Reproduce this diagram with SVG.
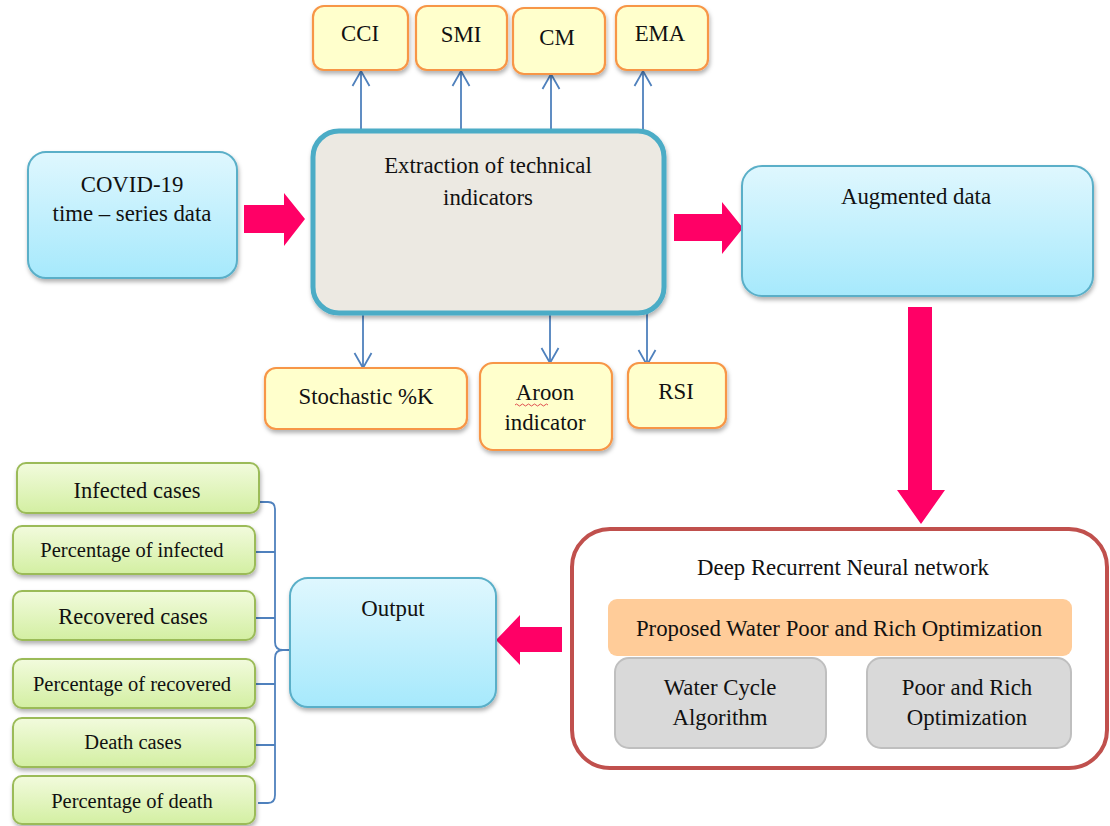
<svg xmlns="http://www.w3.org/2000/svg" width="1110" height="826" viewBox="0 0 1110 826" font-family="'Liberation Serif', 'DejaVu Serif', 'Times New Roman', serif">
<style>
text{font-family:'Liberation Serif','DejaVu Serif','Times New Roman',serif;fill:#111;text-anchor:middle}
.t21{font-size:22.8px}.t20{font-size:22.5px}.t18{font-size:20.5px}
.blue{fill:url(#gBlue);stroke:#5AAFC8;stroke-width:2;filter:url(#sh)}
.yel{fill:#FFFFCC;stroke:#F79646;stroke-width:2.2;filter:url(#sh)}
.grn{fill:url(#gGreen);stroke:#9BBB59;stroke-width:2;filter:url(#sh)}
.gry{fill:#D9D9D9;stroke:#BFBFBF;stroke-width:2}
.con{stroke:#4F81BD;stroke-width:1.8;fill:none}
.pink{fill:#FF0066}
</style>
<defs>
<linearGradient id="gBlue" x1="0" y1="0" x2="0" y2="1"><stop offset="0" stop-color="#DFF7FE"/><stop offset="1" stop-color="#A6E9FC"/></linearGradient>
<linearGradient id="gGreen" x1="0" y1="0" x2="0" y2="1"><stop offset="0" stop-color="#F2FBDD"/><stop offset="1" stop-color="#D3EFA2"/></linearGradient>
<filter id="sh" x="-10%" y="-10%" width="130%" height="140%"><feDropShadow dx="1" dy="3" stdDeviation="2" flood-color="#000" flood-opacity="0.3"/></filter>
<marker id="open" markerWidth="20" markerHeight="20" refX="16" refY="10" orient="auto" markerUnits="userSpaceOnUse"><path d="M1,1.5 L16,10 L1,18.5" fill="none" stroke="#4F81BD" stroke-width="1.8"/></marker>
</defs>

<g id="connectors">
<line class="con" x1="361" y1="131" x2="361" y2="71" marker-end="url(#open)"/>
<line class="con" x1="461" y1="131" x2="461" y2="71" marker-end="url(#open)"/>
<line class="con" x1="551" y1="131" x2="551" y2="74" marker-end="url(#open)"/>
<line class="con" x1="643" y1="131" x2="643" y2="71" marker-end="url(#open)"/>
<line class="con" x1="363" y1="313" x2="363" y2="368" marker-end="url(#open)"/>
<line class="con" x1="550" y1="313" x2="550" y2="363" marker-end="url(#open)"/>
<line class="con" x1="647" y1="313" x2="647" y2="365" marker-end="url(#open)"/>
<path class="con" d="M260,502 L268,502 Q275,502 275,509 L275,642 Q275,650 283,650 L290,650 M283,650 Q275,650 275,658 L275,795 Q275,803 268,803 L258,803"/>
<path class="con" d="M256,552 L275,552 M256,618 L275,618 M256,684 L275,684 M256,745 L275,745"/>
<polygon class="pink" points="244,205 284,205 284,193 305,219 284,246 284,233 244,233"/>
<polygon class="pink" points="674,214 722,214 722,202 743,228 722,254 722,241 674,241"/>
<polygon class="pink" points="908,307 932,307 932,490 945,490 921,524 897,490 908,490"/>
<polygon class="pink" points="562,627 520,627 520,615 496,640 520,665 520,652 562,652"/>
</g>

<g id="covid"><rect class="blue" x="28" y="152" width="209" height="126" rx="18"/>
<text class="t21" x="132" y="192">COVID-19</text><text class="t21" x="132" y="221">time – series data</text></g>

<g id="extraction"><rect x="313" y="131" width="351" height="182" rx="26" fill="#ECE9E2" stroke="#4BACC6" stroke-width="5" filter="url(#sh)"/>
<text class="t21" x="488" y="173">Extraction of technical</text><text class="t21" x="488" y="205">indicators</text></g>

<g id="cci"><rect class="yel" x="313" y="6" width="95" height="64" rx="11"/><text class="t21" x="360" y="41">CCI</text></g>
<g id="smi"><rect class="yel" x="416" y="6" width="91" height="64" rx="11"/><text class="t21" x="461" y="42">SMI</text></g>
<g id="cm"><rect class="yel" x="513" y="8" width="92" height="66" rx="11"/><text class="t21" x="557" y="45">CM</text></g>
<g id="ema"><rect class="yel" x="616" y="6" width="92" height="64" rx="11"/><text class="t21" x="660" y="41">EMA</text></g>

<g id="stochastic"><rect class="yel" x="265" y="368" width="202" height="61" rx="11"/><text class="t21" x="366" y="404">Stochastic %K</text></g>
<g id="aroon"><rect class="yel" x="480" y="363" width="132" height="87" rx="13"/><text class="t21" x="545" y="400">Aroon</text>
<path d="M515,405 q1.5,-2 3,0 t3,0 t3,0 t3,0 t3,0 t3,0 t3,0 t3,0 t3,0 t3,0 t3,0" fill="none" stroke="#E05050" stroke-width="1"/>
<text class="t21" x="545" y="430">indicator</text></g>
<g id="rsi"><rect class="yel" x="628" y="363" width="98" height="65" rx="11"/><text class="t21" x="676" y="399">RSI</text></g>

<g id="augmented"><rect class="blue" x="742" y="166" width="351" height="130" rx="20"/><text class="t21" x="916" y="204">Augmented data</text></g>

<g id="drnn"><rect x="572" y="529" width="535" height="239" rx="38" fill="#FFFFFF" stroke="#C0504D" stroke-width="4"/>
<text class="t21" x="843" y="575">Deep Recurrent Neural network</text></g>
<g id="proposed"><rect x="608" y="599" width="464" height="57" rx="9" fill="#FFCC99"/><text class="t21" x="839" y="636">Proposed Water Poor and Rich Optimization</text></g>
<g id="wca"><rect class="gry" x="615" y="658" width="211" height="90" rx="14"/><text class="t21" x="720" y="695">Water Cycle</text><text class="t21" x="720" y="725">Algorithm</text></g>
<g id="pro"><rect class="gry" x="867" y="658" width="204" height="90" rx="14"/><text class="t21" x="967" y="695">Poor and Rich</text><text class="t21" x="967" y="725">Optimization</text></g>

<g id="output"><rect class="blue" x="290" y="578" width="206" height="129" rx="18"/><text class="t21" x="393" y="616">Output</text></g>

<g id="infected"><rect class="grn" x="17" y="463" width="242" height="50" rx="9"/><text class="t20" x="137" y="498">Infected cases</text></g>
<g id="pinfected"><rect class="grn" x="13" y="526" width="242" height="48" rx="9"/><text class="t18" x="132" y="557">Percentage of infected</text></g>
<g id="recovered"><rect class="grn" x="13" y="591" width="242" height="49" rx="9"/><text class="t20" x="133" y="624">Recovered cases</text></g>
<g id="precovered"><rect class="grn" x="13" y="659" width="242" height="49" rx="9"/><text class="t18" x="132" y="691">Percentage of recovered</text></g>
<g id="death"><rect class="grn" x="13" y="718" width="242" height="49" rx="9"/><text class="t18" x="133" y="749">Death cases</text></g>
<g id="pdeath"><rect class="grn" x="13" y="776" width="242" height="48" rx="9"/><text class="t18" x="132" y="808">Percentage of death</text></g>
</svg>
